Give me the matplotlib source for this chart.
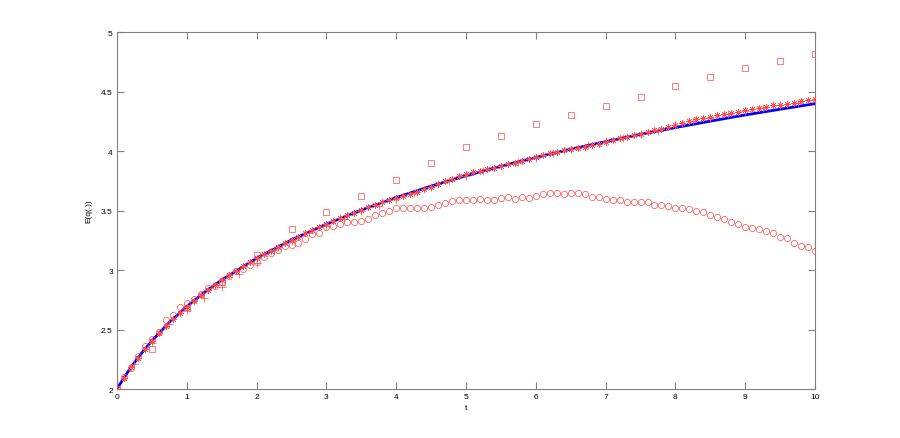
import numpy as np
import matplotlib
matplotlib.use('Agg')
import matplotlib.pyplot as plt

plt.rcParams['font.family'] = ['Liberation Sans', 'DejaVu Sans']

# curva teórica (linha azul)
line_t = [0, 0.1, 0.2, 0.3, 0.4, 0.5, 0.75, 1, 1.25, 1.5, 2, 2.5, 3, 3.5, 4, 4.5,
          5, 5.5, 6, 6.5, 7, 7.5, 8, 8.5, 9, 9.5, 10]
line_v = [2.0, 2.095, 2.182, 2.262, 2.336, 2.405, 2.560, 2.693, 2.811, 2.916, 3.099,
          3.253, 3.386, 3.504, 3.609, 3.705, 3.792, 3.872, 3.946, 4.015, 4.079, 4.140,
          4.197, 4.251, 4.303, 4.351, 4.398]

# asteriscos, passo 0.1
star_t = np.linspace(0, 10, 101)
star_v = [2.000, 2.095, 2.182, 2.262, 2.336, 2.405, 2.470, 2.531, 2.588, 2.642,
          2.693, 2.742, 2.788, 2.833, 2.875, 2.916, 2.956, 2.993, 3.030, 3.065,
          3.099, 3.131, 3.163, 3.194, 3.224, 3.253, 3.281, 3.308, 3.335, 3.361,
          3.386, 3.411, 3.435, 3.459, 3.482, 3.504, 3.526, 3.548, 3.569, 3.589,
          3.609, 3.622, 3.642, 3.659, 3.678, 3.697, 3.726, 3.748, 3.768, 3.790,
          3.810, 3.823, 3.832, 3.846, 3.860, 3.874, 3.888, 3.902, 3.916, 3.936,
          3.950, 3.966, 3.981, 3.992, 4.008, 4.020, 4.029, 4.037, 4.048, 4.062,
          4.079, 4.093, 4.107, 4.121, 4.135, 4.146, 4.163, 4.174, 4.188, 4.205,
          4.220, 4.239, 4.252, 4.267, 4.278, 4.286, 4.300, 4.309, 4.317, 4.331,
          4.342, 4.357, 4.365, 4.373, 4.384, 4.390, 4.395, 4.404, 4.418, 4.426,
          4.435]

# círculos, passo 0.1
circ_t = np.linspace(0, 10, 101)
circ_v = [2.00, 2.10, 2.18, 2.275, 2.36, 2.42, 2.48, 2.58, 2.62, 2.69, 2.725,
          2.76, 2.80, 2.85, 2.865, 2.90, 2.95, 2.99, 3.01, 3.045, 3.07,
          3.11, 3.14, 3.17, 3.20, 3.21, 3.224, 3.26, 3.30, 3.31, 3.36,
          3.367, 3.39, 3.40, 3.406, 3.41, 3.43, 3.46, 3.48, 3.50, 3.52,
          3.52, 3.52, 3.52, 3.52, 3.53, 3.546, 3.563, 3.577, 3.59, 3.59,
          3.59, 3.597, 3.59, 3.59, 3.605, 3.616, 3.60, 3.61, 3.607, 3.625,
          3.64, 3.647, 3.647, 3.64, 3.645, 3.645, 3.64, 3.616, 3.61, 3.60,
          3.59, 3.588, 3.57, 3.57, 3.574, 3.57, 3.55, 3.55, 3.535, 3.52,
          3.52, 3.51, 3.50, 3.49, 3.465, 3.445, 3.43, 3.406, 3.387, 3.364,
          3.35, 3.345, 3.325, 3.31, 3.28, 3.266, 3.227, 3.20, 3.19, 3.157]

# cruzes, passo 0.25
plus_t = np.linspace(0, 10, 41)
plus_v = [2.00, 2.206, 2.388, 2.55, 2.66, 2.767, 2.86, 2.963, 3.06, 3.17, 3.245,
          3.31, 3.37, 3.43, 3.495, 3.54, 3.594, 3.65, 3.70, 3.748, 3.79,
          3.83, 3.875, 3.91, 3.945, 3.985, 4.02, 4.05, 4.08, 4.11, 4.14,
          4.17, 4.215, 4.25, 4.28, 4.31, 4.34, 4.365, 4.39, 4.40, 4.43]

# quadrados, passo 0.5
sq_t = np.linspace(0, 10, 21)
sq_v = [2.0, 2.34, 2.68, 2.90, 3.13, 3.345, 3.485, 3.625, 3.756, 3.90, 4.03,
        4.13, 4.225, 4.30, 4.375, 4.455, 4.545, 4.62, 4.695, 4.755, 4.815]

fig = plt.figure(figsize=(9, 4.39), dpi=100)
ax = fig.add_axes([0.13, 0.1116, 0.7756, 0.8132])

ax.plot(line_t, line_v, color='#0000ff', lw=2.0, zorder=2)
mk = dict(ls='none', mfc='none', mec='#ff4a4a', mew=0.5, zorder=3)
ax.plot(circ_t, circ_v, marker='o', ms=4.5, **mk)
ax.plot(sq_t, sq_v, marker='s', ms=4.2, **mk)
ax.plot(star_t, star_v, marker=(8, 2, 0), ms=4.5, **mk)
ax.plot(plus_t, plus_v, marker='+', ms=5.5, **mk)

ax.set_xlim(0, 10)
ax.set_ylim(2, 5)
ax.set_xticks(range(0, 11))
ax.set_yticks([2, 2.5, 3, 3.5, 4, 4.5, 5])
ax.set_yticklabels(['2', '2.5', '3', '3.5', '4', '4.5', '5'])
ax.tick_params(direction='in', length=5, width=0.8, color='#808080',
               labelsize=6, pad=3, top=True, right=True)
for s in ax.spines.values():
    s.set_color('#808080')
    s.set_linewidth(0.8)

ax.set_xlabel('t', fontsize=6, labelpad=3)
ax.set_ylabel('E(q(.))', fontsize=6, labelpad=6)

fig.savefig('out.png', dpi=100)
